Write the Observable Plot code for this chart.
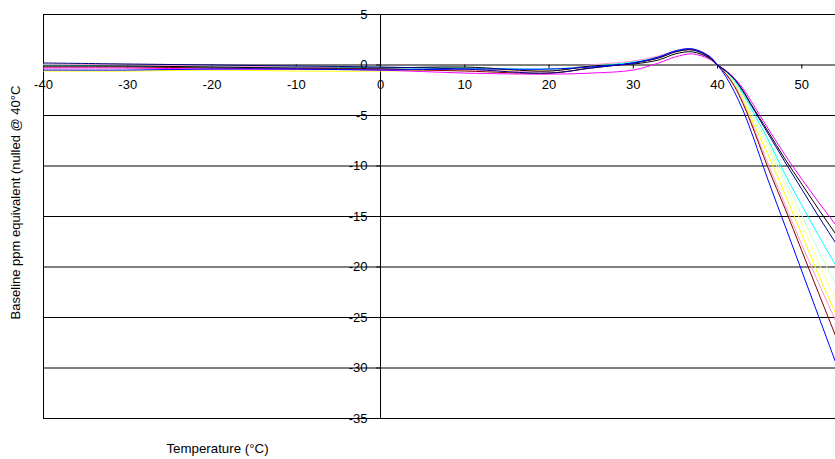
<!DOCTYPE html>
<html><head><meta charset="utf-8">
<script src="https://cdn.jsdelivr.net/npm/d3@7"></script>
<script src="https://cdn.jsdelivr.net/npm/@observablehq/plot@0.6"></script>
<style>body{margin:0;background:#fff} svg{display:block}</style>
</head><body><div id="chart"></div>
<script>
const temps = [-40,-30,-20,-10,0,10,20,25,30,33,35,37,39,40,41,42,43,44,46,48,50,52,54,56];

const seriesColors = ["#FFFF00","#FFFF99","#C0FFD0","#00FFFF","#FF99CC","#800000","#FF00FF","#000000","#000080","#0000FF"];

const yellow      = [-0.6,-0.6,-0.5,-0.6,-0.6,-0.5,-0.5,-0.2,0.2,0.7,1.3,1.5,0.8,0,-0.8,-1.9,-3.4,-5.3,-8.9,-12.8,-16.8,-20.8,-24.6,-28.4];
const lightYellow = [-0.3,-0.3,-0.3,-0.3,-0.4,-0.4,-0.5,-0.1,0.3,0.8,1.3,1.5,0.8,0,-0.75,-1.8,-3.2,-5.0,-8.2,-11.9,-15.7,-19.6,-23.3,-27.0];
const mint        = [0.0,-0.1,-0.1,-0.2,-0.3,-0.3,-0.4,-0.1,0.3,0.8,1.4,1.5,0.8,0,-0.7,-1.7,-3.0,-4.7,-7.8,-11.3,-14.9,-18.4,-21.7,-25.2];
const cyan        = [0.0,-0.1,-0.2,-0.2,-0.3,-0.3,-0.4,-0.1,0.3,0.8,1.4,1.6,0.8,0,-0.65,-1.55,-2.8,-4.3,-7.4,-10.8,-13.9,-16.9,-19.8,-22.8];
const pink        = [0.1,0.0,-0.1,-0.2,-0.4,-0.5,-0.6,0.0,0.4,0.9,1.4,1.6,0.8,0,-0.85,-2.0,-3.6,-5.6,-9.8,-13.8,-17.8,-21.6,-25.3,-29.0];
const darkRed     = [-0.2,-0.2,-0.3,-0.4,-0.4,-0.6,-0.8,-0.3,0.2,0.7,1.3,1.5,0.8,0,-0.9,-2.1,-3.8,-5.8,-10.2,-14.2,-18.4,-22.6,-26.8,-31.0];
const magenta     = [-0.3,-0.3,-0.4,-0.4,-0.5,-0.8,-0.9,-0.8,-0.5,0.2,0.8,1.1,0.6,0,-0.55,-1.3,-2.3,-3.6,-6.3,-8.9,-11.3,-13.6,-15.8,-18.0];
const black       = [-0.1,-0.1,-0.2,-0.3,-0.3,-0.2,-0.6,-0.1,0.1,0.5,1.1,1.3,0.7,0,-0.6,-1.4,-2.5,-3.9,-6.6,-9.3,-11.8,-14.3,-16.7,-19.1];
const navy        = [0.2,0.1,0.0,-0.1,-0.2,-0.4,-0.8,-0.3,0.2,0.7,1.3,1.5,0.8,0,-0.6,-1.4,-2.6,-4.0,-6.8,-9.6,-12.3,-15.0,-17.6,-20.2];
const blue        = [-0.5,-0.5,-0.4,-0.4,-0.5,-0.4,-0.4,-0.2,0.2,0.8,1.4,1.6,0.9,0,-1.16,-2.65,-4.45,-6.6,-11.4,-15.9,-20.4,-24.9,-29.4,-33.9];

const seriesValues = [yellow, lightYellow, mint, cyan, pink, darkRed, magenta, black, navy, blue];

const xTicks = [-40,-30,-20,-10,0,10,20,30,40,50];
const xTickLabels = ["-40","-30","-20","-10","0","10","20","30","40","50"];
const yTicks = [5,0,-5,-10,-15,-20,-25,-30,-35];
const yTickLabels = ["5","0","-5","-10","-15","-20","-25","-30","-35"];

const xTitle = "Temperature (°C)";
const yTitle = "Baseline ppm equivalent (nulled @ 40°C";

const font = "Liberation Sans, Arial, sans-serif";

const lineMarks = seriesValues.map((vals, k) =>
  Plot.line(vals, {
    x: (d, i) => temps[i],
    y: d => d,
    stroke: seriesColors[k],
    strokeWidth: 1,
    curve: "catmull-rom",
    clip: true
  })
);

const chart = Plot.plot({
  width: 835,
  height: 459,
  marginTop: 14,
  marginBottom: 41,
  marginLeft: 43,
  marginRight: 0,
  style: {fontFamily: font, background: "#fff"},
  x: {domain: [-40, 54.0], axis: null},
  y: {domain: [-35, 5], axis: null},
  marks: [
    Plot.ruleY(yTicks, {stroke: "#000", strokeWidth: 1}),
    Plot.ruleX([-40, 0], {y1: -35, y2: 5, stroke: "#000", strokeWidth: 1}),
    Plot.ruleX(xTicks, {y1: 0, y2: -0.4, stroke: "#000"}),
    Plot.ruleY(yTicks, {x1: -0.45, x2: 0, stroke: "#000"}),
    ...lineMarks,
    Plot.text(xTicks, {x: d => d, y: 0, dy: 20, text: (d, i) => xTickLabels[i], fontSize: 13, fill: "#000", textAnchor: "middle"}),
    Plot.text(yTicks, {x: 0, y: d => d, dx: -13, text: (d, i) => yTickLabels[i], fontSize: 13, fill: "#000", textAnchor: "end"}),
    Plot.text([xTitle], {frameAnchor: "bottom", dx: -222, dy: 34, text: d => d, fontSize: 13.3, fill: "#000", textAnchor: "middle"}),
    Plot.text([yTitle], {frameAnchor: "left", dx: -28, dy: -14, rotate: -90, text: d => d, fontSize: 13, fill: "#000", textAnchor: "middle"})
  ]
});
document.getElementById("chart").append(chart);
</script>
</body></html>
